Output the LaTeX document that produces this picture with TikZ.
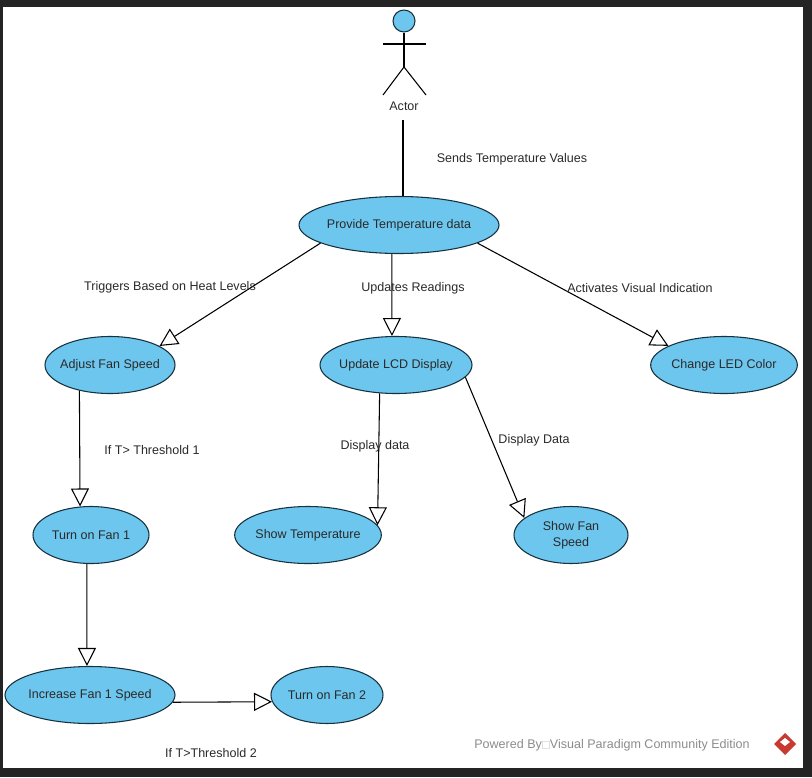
\documentclass[tikz,border=0pt]{standalone}
\usepackage{fontspec}
\setmainfont{Liberation Sans}
\usetikzlibrary{shapes.geometric}
\usetikzlibrary{arrows.meta}

\definecolor{ucfill}{HTML}{6CC6EE}
\definecolor{ucline}{HTML}{17323F}
\definecolor{frameback}{HTML}{242424}
\definecolor{textgray}{HTML}{2A2A2A}
\definecolor{logored}{HTML}{C8392F}

\newcommand{\uctext}[1]{\makebox[0pt]{#1}}

\tikzset{
    usecase/.style={ellipse, draw=ucline, fill=ucfill, line width=0.8pt, inner sep=0pt, minimum height=42.75pt, text=textgray, font=\fontsize{9.4}{11}\selectfont},
    note/.style={text=textgray, inner sep=0pt, font=\fontsize{9.4}{11}\selectfont},
    link/.style={line width=0.8pt, black},
    gen/.style={link, -{Triangle[open, fill=white, length=13.5pt, width=13.5pt, line width=0.8pt]}}
}

\begin{document}
\begin{tikzpicture}[x=0.75pt, y=-0.75pt]
        \useasboundingbox (0,0) rectangle (812,777);
        % Draw the frame and the page
        \fill[frameback] (0,0) rectangle (812,777);
        \fill[white] (3,7) rectangle (803,768);
        % Draw the actor
        \node[circle, draw=ucline, fill=ucfill, line width=0.8pt, minimum size=16.5pt, inner sep=0pt] (head) at (404,21) {};
        \coordinate (hip) at (404,67);
        \coordinate (armL) at (383,44);
        \coordinate (armR) at (426,44);
        \coordinate (legL) at (383,95);
        \coordinate (legR) at (426,95);
        \draw[link] (head.south) -- (hip);
        \draw[link] (armL) -- (armR);
        \draw[link] (legL) -- (hip) -- (legR);
        \node[note] (actor) at (404,106) {Actor};
        \coordinate (actorEnd) at (403,120);
        % Draw the use cases
        \node[usecase, minimum width=150pt] (provide) at (399,225) {\uctext{Provide Temperature data}};
        \node[usecase, minimum width=97.5pt] (adjust) at (110,365) {\uctext{Adjust Fan Speed}};
        \node[usecase, minimum width=114pt] (lcd) at (396,365) {\uctext{Update LCD Display}};
        \node[usecase, minimum width=110pt] (led) at (724,365) {\uctext{Change LED Color}};
        \node[usecase, minimum width=87pt] (fanOne) at (91,535) {\uctext{Turn on Fan 1}};
        \node[usecase, minimum width=110pt] (temp) at (308,535) {\uctext{Show Temperature}};
        \node[usecase, minimum width=85.5pt] (fanSpeed) at (571,535) {\uctext{\shortstack{Show Fan\\[2pt]Speed}}};
        \node[usecase, minimum width=127.5pt] (increase) at (90,695) {\uctext{Increase Fan 1 Speed}};
        \node[usecase, minimum width=84pt] (fanTwo) at (327,695) {\uctext{Turn on Fan 2}};
        % Draw the connectors
        \draw[link] (actorEnd) -- (actorEnd |- provide.north);
        \draw[gen] (provide.193) -- (adjust.21);
        \draw[gen] (provide.256) -- (lcd.98);
        \draw[gen] (provide.347) -- (led.161);
        \draw[gen] (adjust.220) -- (fanOne.111);
        \draw[gen] (lcd.240) -- (temp.8);
        \draw[gen] (lcd.350) -- (fanSpeed.160);
        \draw[gen] (fanOne.262) -- (increase.96);
        \draw[gen] (increase.355) -- (fanTwo.187);
        % Draw the labels
        \node[note] (sends) at (512,159) {Sends Temperature Values};
        \node[note] (triggers) at (170,287) {Triggers Based on Heat Levels};
        \node[note] (updates) at (413,288) {Updates Readings};
        \node[note] (activates) at (640,288) {Activates Visual Indication};
        \node[note] (threshOne) at (152,450) {If T> Threshold 1};
        \node[note] (dispData) at (375,446) {Display data};
        \node[note] (dispDataB) at (534,440) {Display Data};
        \node[note] (threshTwo) at (211,753) {If T>Threshold 2};
        % Draw the footer
        \node[note, text=black!45] (powered) at (612,745) {Powered By{\color{black!12}\fboxsep=0pt\fbox{\phantom{n}}}Visual Paradigm Community Edition};
        \fill[logored] (785,733) -- (796,744) -- (785,755) -- (774,744) -- cycle;
        \fill[white] (780,742) -- (785,738) -- (790,742) -- (785,746) -- cycle;
    \end{tikzpicture}
\end{document}
